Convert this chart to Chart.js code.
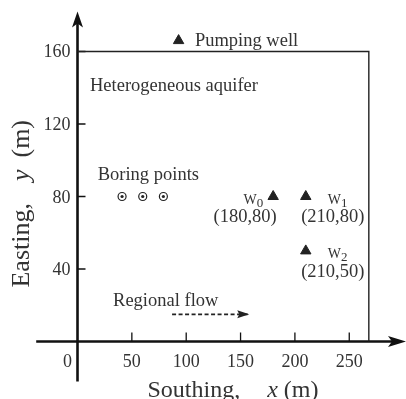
<!DOCTYPE html>
<html>
<head>
<meta charset="utf-8">
<script src="https://cdn.jsdelivr.net/npm/chart.js@4.4.1/dist/chart.umd.min.js"></script>
<style>
  html, body { margin: 0; padding: 0; background: #fff; }
  canvas { display: block; }
</style>
</head>
<body>
<canvas id="siteMap" width="406" height="399"></canvas>
<script>
// site layout, metres
const xTicks = [50, 100, 150, 200, 250];
const yTicks = [40, 80, 120, 160];
const boundaryX = [0, 268, 268];
const boundaryY = [160, 160, 0];
const pumpX = [93];
const pumpY = [166];
const wellNames = ['0', '1', '2'];
const wellX = [180, 210, 210];
const wellY = [80, 80, 50];
const boringX = [41, 60, 79];
const boringY = [80, 80, 80];
const flowX = [87, 158];
const flowY = [15, 15];

const ink = '#222';
const textInk = '#333';
const serif = '"Liberation Serif", "Times New Roman", serif';

// free text, anchored in site coordinates (left end, baseline)
const notes = [
    { text: 'Pumping well', x: 108, y: 163.3 },
    { text: 'Heterogeneous aquifer', x: 11.5, y: 138.2 },
    { text: 'Boring points', x: 18.6, y: 89.1 },
    { text: 'Regional flow', x: 32.7, y: 19.6 }
];

function toPts(xs, ys) {
    return xs.map((x, i) => ({ x: x, y: ys[i] }));
}

function arrowHead(ctx, tipX, tipY, angle, len, half, notch) {
    ctx.save();
    ctx.translate(tipX, tipY);
    ctx.rotate(angle);
    ctx.beginPath();
    ctx.moveTo(0, 0);
    ctx.lineTo(-len, -half);
    ctx.lineTo(-len + notch, 0);
    ctx.lineTo(-len, half);
    ctx.closePath();
    ctx.fill();
    ctx.restore();
}

function partsWidth(ctx, parts) {
    let w = 0;
    parts.forEach(p => {
        ctx.font = p.font;
        w += ctx.measureText(p.text).width + (p.gap || 0);
    });
    return w;
}

function drawParts(ctx, parts, startX, baseY) {
    let cx = startX;
    parts.forEach(p => {
        ctx.font = p.font;
        ctx.fillText(p.text, cx, baseY + (p.dy || 0));
        cx += ctx.measureText(p.text).width + (p.gap || 0);
    });
}

const mapFrame = {
    id: 'mapFrame',
    beforeDatasetsDraw(chart) {
        const { ctx, chartArea } = chart;
        const x = chart.scales.x, y = chart.scales.y;
        const x0 = x.getPixelForValue(0), y0 = y.getPixelForValue(0);
        ctx.save();
        ctx.strokeStyle = '#111';
        ctx.fillStyle = '#111';
        ctx.lineWidth = 2.6;

        // horizontal axis with arrow
        const xLeft = x.getPixelForValue(-38);
        const xTip = chartArea.right;
        ctx.beginPath();
        ctx.moveTo(xLeft, y0);
        ctx.lineTo(xTip - 8, y0);
        ctx.stroke();
        arrowHead(ctx, xTip, y0, 0, 18, 5.5, 4);

        // vertical axis with arrow
        const yBottom = y.getPixelForValue(-22);
        const yTip = y.getPixelForValue(182);
        ctx.beginPath();
        ctx.moveTo(x0, yBottom);
        ctx.lineTo(x0, yTip + 8);
        ctx.stroke();
        arrowHead(ctx, x0, yTip, -Math.PI / 2, 16, 5.5, 4);

        // inward ticks
        ctx.lineWidth = 1.3;
        ctx.beginPath();
        xTicks.forEach(v => {
            const p = x.getPixelForValue(v);
            ctx.moveTo(p, y0);
            ctx.lineTo(p, y0 - 9);
        });
        yTicks.forEach(v => {
            const p = y.getPixelForValue(v);
            ctx.moveTo(x0, p);
            ctx.lineTo(x0 + 8, p);
        });
        ctx.stroke();

        // tick labels
        ctx.fillStyle = textInk;
        ctx.font = '18px ' + serif;
        ctx.textBaseline = 'alphabetic';
        ctx.textAlign = 'center';
        xTicks.forEach(v => ctx.fillText(String(v), x.getPixelForValue(v), y0 + 25));
        ctx.fillText('0', x0 - 10, y0 + 25);
        ctx.textAlign = 'right';
        yTicks.forEach(v => ctx.fillText(String(v), x0 - 7, y.getPixelForValue(v) + 6));
        ctx.restore();
    },
    afterDatasetsDraw(chart) {
        const { ctx, chartArea } = chart;
        const x = chart.scales.x, y = chart.scales.y;
        ctx.save();

        // head of the regional flow arrow
        ctx.fillStyle = ink;
        const n = flowX.length - 1;
        arrowHead(ctx, x.getPixelForValue(flowX[n]), y.getPixelForValue(flowY[n]), 0, 12, 4, 2);

        // notes
        ctx.fillStyle = textInk;
        ctx.textAlign = 'left';
        ctx.textBaseline = 'alphabetic';
        ctx.font = '18.5px ' + serif;
        notes.forEach(t => ctx.fillText(t.text, x.getPixelForValue(t.x), y.getPixelForValue(t.y)));

        // well names and coordinates
        wellX.forEach((wx, i) => {
            const px = x.getPixelForValue(wx), py = y.getPixelForValue(wellY[i]);
            const onLeft = i === 0;
            const name = [
                { text: 'W', font: '14px ' + serif },
                { text: wellNames[i], font: '13px ' + serif, dy: 3 }
            ];
            const w = partsWidth(ctx, name);
            ctx.textAlign = 'left';
            ctx.textBaseline = 'alphabetic';
            drawParts(ctx, name, onLeft ? px - 10 - w : px + 22, py + 7);
            ctx.font = '18.5px ' + serif;
            ctx.textAlign = 'center';
            ctx.textBaseline = 'middle';
            ctx.fillText('(' + wx + ',' + wellY[i] + ')', px + (onLeft ? -28 : 27), py + 21);
        });

        // axis titles
        ctx.textAlign = 'left';
        ctx.textBaseline = 'alphabetic';
        const xTitle = [
            { text: 'Southing,', font: '24px ' + serif, gap: 27 },
            { text: 'x', font: 'italic 24px ' + serif },
            { text: ' (m)', font: '24px ' + serif }
        ];
        const xw = partsWidth(ctx, xTitle);
        drawParts(ctx, xTitle, x.getPixelForValue(143) - xw / 2, chartArea.bottom - 2);

        const yTitle = [
            { text: 'Easting,', font: '26px ' + serif, gap: 22 },
            { text: 'y', font: 'italic 26px ' + serif, gap: 12 },
            { text: '(m)', font: '26px ' + serif }
        ];
        const yw = partsWidth(ctx, yTitle);
        ctx.translate(28.5, y.getPixelForValue(76));
        ctx.rotate(-Math.PI / 2);
        drawParts(ctx, yTitle, -yw / 2, 0);
        ctx.restore();
    }
};

new Chart(document.getElementById('siteMap').getContext('2d'), {
    type: 'scatter',
    data: {
        datasets: [
            {
                label: 'Pumping well',
                data: toPts(pumpX, pumpY),
                pointStyle: 'triangle',
                pointRadius: 6,
                backgroundColor: ink,
                borderColor: ink,
                borderWidth: 1
            },
            {
                label: 'Wells',
                data: toPts(wellX, wellY),
                pointStyle: 'triangle',
                pointRadius: 6,
                backgroundColor: ink,
                borderColor: ink,
                borderWidth: 1
            },
            {
                label: 'Boring centre',
                data: toPts(boringX, boringY),
                pointStyle: 'circle',
                pointRadius: 1.6,
                backgroundColor: ink,
                borderWidth: 0
            },
            {
                label: 'Boring points',
                data: toPts(boringX, boringY),
                pointStyle: 'circle',
                pointRadius: 4,
                backgroundColor: '#fff',
                borderColor: ink,
                borderWidth: 1.2
            },
            {
                label: 'Regional flow',
                data: toPts(flowX, flowY),
                showLine: true,
                pointRadius: 0,
                borderColor: ink,
                borderWidth: 1.8,
                borderDash: [4, 2.5]
            },
            {
                label: 'Aquifer boundary',
                data: toPts(boundaryX, boundaryY),
                showLine: true,
                pointRadius: 0,
                borderColor: ink,
                borderWidth: 1.4
            }
        ]
    },
    options: {
        responsive: false,
        animation: false,
        devicePixelRatio: 1,
        events: [],
        layout: { padding: 0, autoPadding: false },
        plugins: {
            legend: { display: false },
            tooltip: { enabled: false }
        },
        scales: {
            x: { type: 'linear', min: -71.3, max: 302.2, display: false },
            y: { type: 'linear', min: -31.7, max: 188.4, display: false }
        }
    },
    plugins: [mapFrame]
});
</script>
</body>
</html>
